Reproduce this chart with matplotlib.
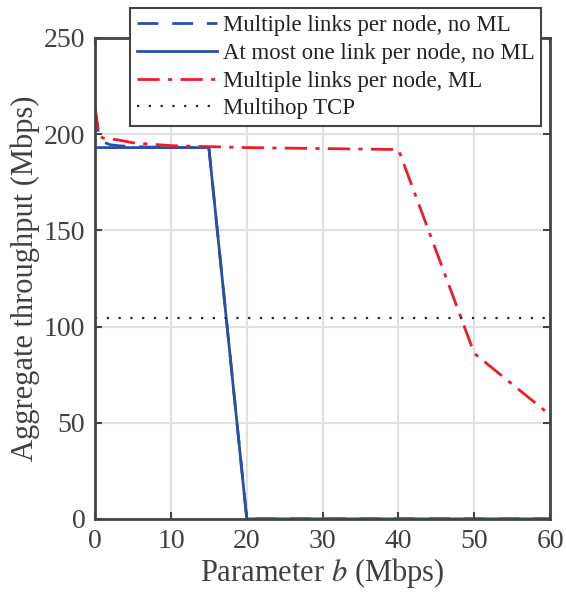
import matplotlib
matplotlib.use("Agg")
import matplotlib.pyplot as plt

plt.rcParams['font.family'] = ['Liberation Serif', 'DejaVu Serif']
plt.rcParams['mathtext.fontset'] = 'stix'

x_multi = [0, 0.5, 1, 2, 3, 5, 10, 15, 20, 30, 40, 50, 60]
y_multi = [212, 199, 196, 194.5, 194, 193.5, 193, 193, 0, 0, 0, 0, 0]

x_one = [0, 5, 10, 15, 20, 30, 40, 50, 60]
y_one = [193, 193, 193, 193, 0, 0, 0, 0, 0]

x_ml = [0, 0.5, 1, 2, 3, 5, 10, 20, 30, 40, 50, 60]
y_ml = [214, 200, 198, 197.5, 197, 195.5, 194, 193, 192.5, 192, 86, 54]

tcp_value = 104.5

blue = '#2a4fa6'
red = '#ec1c2a'
txt = '#404040'

fig = plt.figure(figsize=(5.66, 5.93), dpi=100)
ax = fig.add_axes([0.168, 0.125, 0.804, 0.811])

ax.plot(x_multi, y_multi, color=blue, linestyle=(0, (7.5, 5)), linewidth=2,
        label='Multiple links per node, no ML')
ax.plot(x_one, y_one, color=blue, linestyle='-', linewidth=2,
        label='At most one link per node, no ML')
ax.plot(x_ml, y_ml, color=red, linestyle=(0, (8, 3, 1.5, 3)), linewidth=2,
        label='Multiple links per node, ML')
ax.plot([0, 60], [tcp_value, tcp_value], color='#222222', linestyle=(0, (1, 4.3)),
        linewidth=1.6, label='Multihop TCP')

ax.set_xlim(0, 60)
ax.set_ylim(0, 250)
ax.set_xticks([0, 10, 20, 30, 40, 50, 60])
ax.set_yticks([0, 50, 100, 150, 200, 250])
ax.grid(True, color='#e0e0e0', linewidth=1.5)
ax.set_axisbelow(True)
for s in ax.spines.values():
    s.set_color('#444444')
    s.set_linewidth(2)
ax.tick_params(direction='in', top=True, right=True, length=5, width=1.5,
               color='#444444', labelsize=20, labelcolor=txt, pad=7)
ax.set_xlabel('Parameter $b$ (Mbps)', fontsize=22, color=txt, labelpad=2)
ax.set_ylabel('Aggregate throughput (Mbps)', fontsize=22, color=txt, labelpad=3)

leg = ax.legend(loc='upper right', bbox_to_anchor=(0.956, 0.9865),
                bbox_transform=fig.transFigure, borderaxespad=0,
                fontsize=16.4, frameon=True, fancybox=False, framealpha=1,
                edgecolor='#444444', handlelength=3.5, handletextpad=0.26,
                labelspacing=0.3, borderpad=0.3)
leg.get_frame().set_linewidth(1.5)
for t in leg.get_texts():
    t.set_color('#222222')

fig.savefig('out.png', dpi=100)
